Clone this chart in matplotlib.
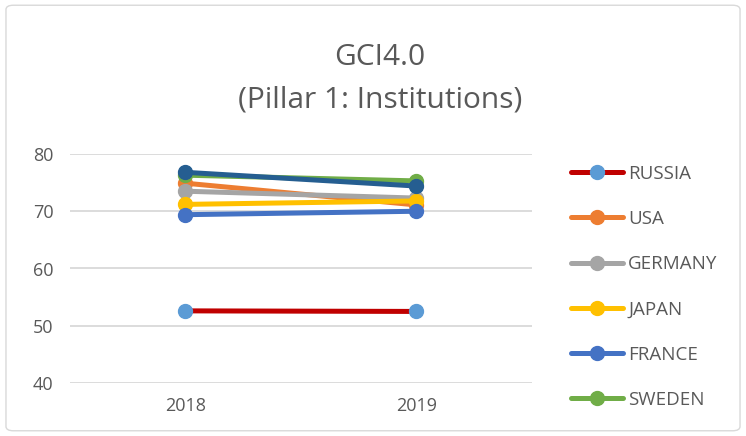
import matplotlib
matplotlib.use("Agg")
import matplotlib.pyplot as plt
from matplotlib.patches import FancyBboxPatch

years = ["2018", "2019"]
countries = ["RUSSIA", "USA", "GERMANY", "JAPAN", "FRANCE", "SWEDEN", "_series7"]
russia = [52.6, 52.5]
usa = [74.9, 71.1]
germany = [73.5, 72.3]
japan = [71.2, 71.8]
france = [69.4, 70.0]
sweden = [76.3, 75.3]
series7 = [76.8, 74.4]
values = [russia, usa, germany, japan, france, sweden, series7]
line_colors = ["#C00000", "#ED7D31", "#A5A5A5", "#FFC000", "#4472C4", "#70AD47", "#255E91"]
marker_colors = ["#5B9BD5", "#ED7D31", "#A5A5A5", "#FFC000", "#4472C4", "#70AD47", "#255E91"]

plt.rcParams['font.family'] = ['Open Sans', 'DejaVu Sans']
text_color = "#595959"

fig = plt.figure(figsize=(7.46, 4.36), dpi=100)
border = FancyBboxPatch((0.008, 0.012), 0.984, 0.976, boxstyle="round,pad=0,rounding_size=0.01",
                        transform=fig.transFigure, facecolor="none", edgecolor="#D9D9D9", lw=1,
                        zorder=-1)
fig.patches.append(border)

ax = fig.add_axes([70/746, 1-383/436, (532-70)/746, (383-154)/436])
ax.set_facecolor("none")
x = list(range(len(years)))
handles = []
for name, vals, lc, mc in zip(countries, values, line_colors, marker_colors):
    h, = ax.plot(x, vals, color=lc, lw=3.6, marker="o", markersize=10,
                 markerfacecolor=mc, markeredgecolor=mc, solid_capstyle="round", label=name)
    if not name.startswith("_"):
        handles.append(h)

ax.set_xlim(-0.5, 1.5)
ax.set_ylim(40, 80)
ax.set_yticks([40, 50, 60, 70, 80])
ax.set_xticks(x)
ax.set_xticklabels(years)
ax.yaxis.grid(True, color="#D9D9D9", lw=1.3)
ax.set_axisbelow(True)
for s in ax.spines.values():
    s.set_visible(False)
ax.tick_params(length=0, labelsize=13, colors=text_color, pad=10)
ax.tick_params(axis="y", pad=12)

fig.text(380/746, 1-57/436, "GCI4.0", ha="center", va="center", fontsize=21.5, color=text_color)
fig.text(380/746, 1-100/436, "(Pillar 1: Institutions)", ha="center", va="center", fontsize=21.5, color=text_color)

leg = fig.legend(handles=handles, loc="upper left", bbox_to_anchor=(554/746, 1-148/436),
                 frameon=False, fontsize=13.5, labelspacing=1.45, handlelength=2.8,
                 handletextpad=0.25, labelcolor=text_color)

fig.savefig("out.png", dpi=100)
